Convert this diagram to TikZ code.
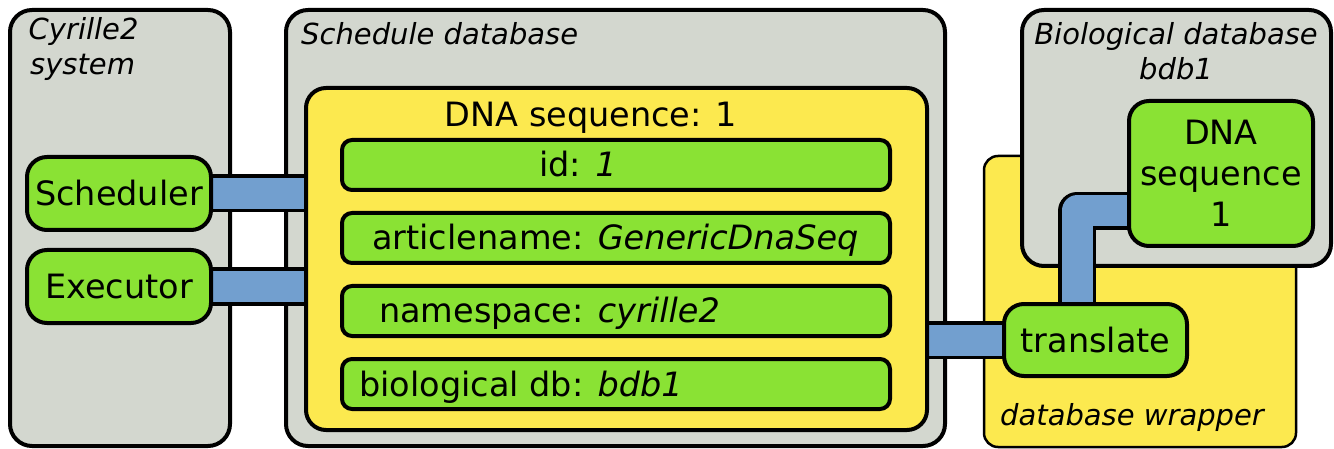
\documentclass[tikz,border=0pt]{standalone}
\usepackage{fontspec}
\setmainfont{DejaVu Sans}
\definecolor{tgray}{HTML}{D3D7CF}
\definecolor{tyellow}{HTML}{FCE94F}
\definecolor{tgreen}{HTML}{8AE234}
\definecolor{tblue}{HTML}{729FCF}
\pgfdeclarelayer{back}
\pgfdeclarelayer{mid}
\pgfsetlayers{back,mid,main}
\begin{document}
\begin{tikzpicture}[x=1pt,y=-1pt,
  boxbase/.style={draw=black, line width=4pt, inner sep=0pt, outer sep=0pt, anchor=center},
  graybox/.style={boxbase, fill=tgray, rounded corners=22pt},
  wrapbox/.style={boxbase, line width=2.5pt, fill=tyellow, rounded corners=14pt},
  yellowbox/.style={boxbase, fill=tyellow, rounded corners=20pt},
  greenbox/.style={boxbase, fill=tgreen, rounded corners=20pt, font=\fontsize{33.5}{41}\selectfont},
  field/.style={boxbase, fill=tgreen, rounded corners=10pt, minimum width=548pt, minimum height=50pt},
  txt/.style={inner sep=0pt, font=\fontsize{33.5}{41}\selectfont},
  lbl/.style={inner sep=0pt, font=\fontsize{29}{35}\selectfont\itshape},
  conn/.style={draw=black, line width=3.5pt, double=tblue, double distance=31pt}
]
\useasboundingbox (0,0) rectangle (1334,449);

\begin{pgfonlayer}{back}
\node[graybox, minimum width=220pt, minimum height=436pt] (cyr) at (120,228) {};
\node[graybox, minimum width=659pt, minimum height=436pt] (sdb) at (615.5,228) {};
\node[wrapbox, minimum width=312pt, minimum height=291pt] (wrap) at (1140,301.5) {};
\node[graybox, minimum width=309pt, minimum height=256pt] (bdb) at (1176.5,138) {};
\end{pgfonlayer}

\node[lbl, anchor=base west, align=left] (cyrlbl) at (28.5,75) {Cyrille2\\\hspace*{1.5pt}system};
\node[lbl, anchor=base west] (sdblbl) at (301,45) {Schedule database};
\node[lbl, anchor=base, align=center] (bdblbl) at (1176,80) {Biological database\\bdb1};
\node[lbl, anchor=base west] (wraplbl) at (1000,425) {database wrapper};

\node[yellowbox, minimum width=621pt, minimum height=342pt] (dna) at (616.5,259) {};
\node[txt, anchor=base] (dnalbl) at (591,127) {DNA sequence: 1};

\node[field] (fid) at (616,165) {};
\node[field] (fart) at (616,238) {};
\node[field] (fns) at (616,311) {};
\node[field] (fbio) at (616,384) {};
\node[txt, anchor=base west] (tid) at (539,177) {id: \textit{1}};
\node[txt, anchor=base west] (tart) at (372,250) {articlename: \textit{GenericDnaSeq}};
\node[txt, anchor=base west] (tns) at (379,323) {namespace: \textit{cyrille2}};
\node[txt, anchor=base west] (tbio) at (359,396) {biological db: \textit{bdb1}};

\node[greenbox, minimum width=184pt, minimum height=73pt] (sched) at (119,193.5) {Scheduler};
\node[greenbox, minimum width=184pt, minimum height=73pt] (exec) at (119,286.5) {Executor};
\node[greenbox, minimum width=183pt, minimum height=72pt] (trans) at (1095.5,340) {translate};
\node[greenbox, minimum width=184pt, minimum height=145pt, align=center] (seq) at (1221,173.5) {DNA\\sequence\\1};

\begin{pgfonlayer}{mid}
\draw[conn] (sched.east) -- (sched.east -| dna.west);
\draw[conn] (exec.east) -- (exec.east -| dna.west);
\draw[conn] (trans.west) -- (trans.west -| dna.east);
\draw[conn, line join=round] ([xshift=-18.5pt]trans.north) |- ([yshift=-37.5pt]seq.west);
\end{pgfonlayer}
\end{tikzpicture}
\end{document}
